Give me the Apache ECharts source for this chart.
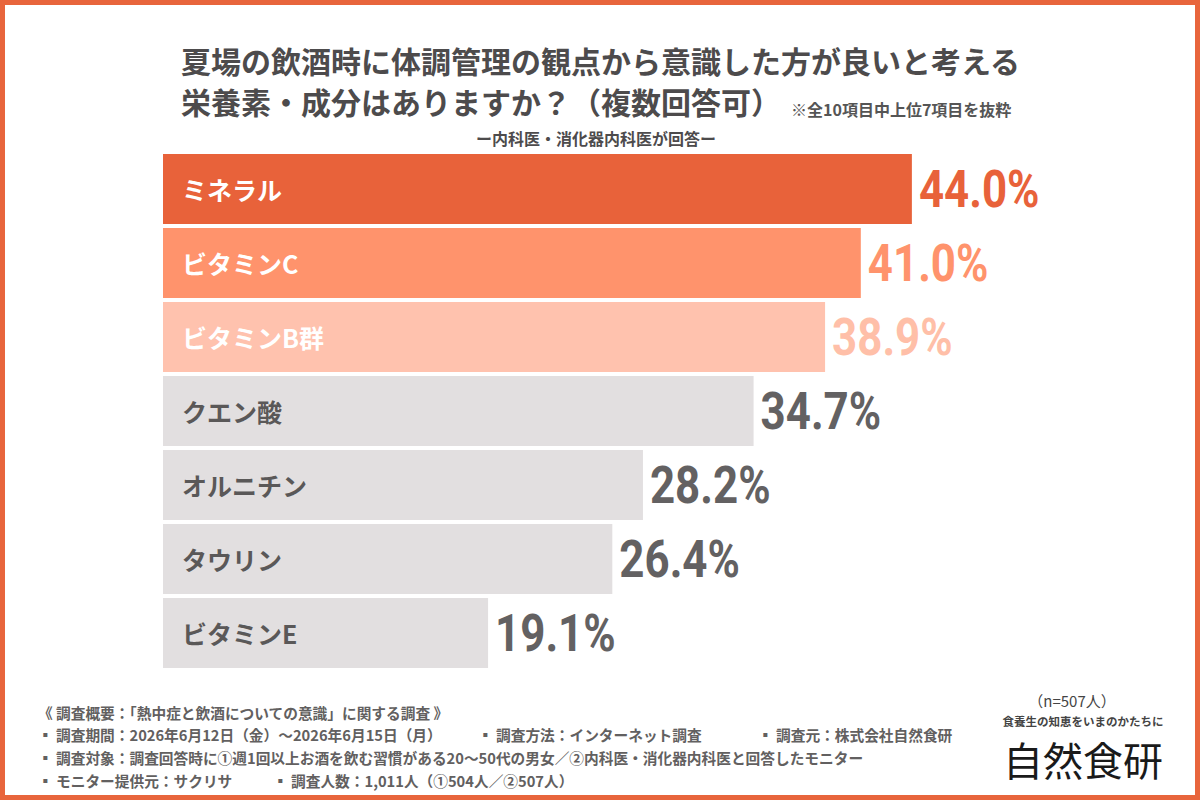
<!DOCTYPE html>
<html>
<head>
<meta charset="utf-8">
<script src="https://cdn.jsdelivr.net/npm/echarts@6/dist/echarts.min.js"></script>
<style>
  html, body { margin: 0; padding: 0; background: #fff; }
  #chart { width: 1200px; height: 800px; }
</style>
</head>
<body>
<div id="chart"></div>
<script>
const categories = ['ミネラル', 'ビタミンC', 'ビタミンB群', 'クエン酸', 'オルニチン', 'タウリン', 'ビタミンE']
const values = [44.0, 41.0, 38.9, 34.7, 28.2, 26.4, 19.1]
const barColors = ['#E8623A', '#FF936C', '#FFC2AE', '#E2DFE0', '#E2DFE0', '#E2DFE0', '#E2DFE0']
const nameColors = ['#ffffff', '#ffffff', '#ffffff', '#5a5858', '#5a5858', '#5a5858', '#5a5858']
const valueColors = ['#E8623A', '#FF936C', '#FFBFA8', '#636162', '#636162', '#636162', '#636162']

const jp = '"Noto Sans CJK JP", "Noto Sans", sans-serif'
const num = 'Roboto, "Noto Sans", sans-serif'

function txt(text, x, y, size, opts = {}) {
  return {
    type: 'text',
    style: {
      text, x, y,
      fill: opts.color || '#555',
      fontSize: size,
      fontWeight: opts.weight || 'bold',
      fontFamily: opts.family || jp,
      textAlign: opts.align || 'left',
      textVerticalAlign: 'middle',
    },
  }
}

// value labels: condensed look via a custom series placed on the axes
function renderValue(params, api) {
  const i = params.dataIndex
  const pt = api.coord([api.value(0), api.value(1)])
  return {
    type: 'text',
    x: pt[0] + 7,
    y: pt[1] + 1,
    scaleX: 0.86,
    style: {
      text: values[i].toFixed(1) + '%',
      fill: valueColors[i],
      fontSize: 51,
      fontWeight: 'bold',
      fontFamily: num,
      align: 'left',
      verticalAlign: 'middle',
    },
  }
}

const chart = echarts.init(document.getElementById('chart'), null, { renderer: 'svg' })
chart.setOption({
  backgroundColor: '#ffffff',
  animation: false,
  grid: { left: 163, top: 152, width: 851, height: 518 },
  xAxis: { type: 'value', min: 0, max: 50, show: false },
  yAxis: { type: 'category', data: categories, inverse: true, show: false },
  series: [
    {
      type: 'bar',
      barWidth: 70,
      data: values.map((v, i) => ({
        value: v,
        itemStyle: { color: barColors[i] },
        label: { color: nameColors[i] },
      })),
      label: {
        show: true,
        position: 'insideLeft',
        distance: 19,
        formatter: '{b}',
        fontSize: 25,
        fontWeight: 'bold',
        fontFamily: jp,
      },
    },
    {
      type: 'custom',
      silent: true,
      z: 3,
      renderItem: renderValue,
      encode: { x: 0, y: 1 },
      data: values.map((v, i) => [v, i]),
    },
  ],
  graphic: [
    {
      type: 'rect',
      shape: { x: 0, y: 0, width: 1200, height: 800 },
      style: { fill: 'none', stroke: '#E8653C', lineWidth: 10 },
      silent: true,
    },
    txt('夏場の飲酒時に体調管理の観点から意識した方が良いと考える', 181, 60, 30, { color: '#4d4b4c' }),
    txt('栄養素・成分はありますか？（複数回答可）', 181, 101, 30, { color: '#4d4b4c' }),
    txt('※全10項目中上位7項目を抜粋', 791, 109, 16, { color: '#555' }),
    txt('ー内科医・消化器内科医が回答ー', 596, 138, 16, { color: '#4d4b4c', align: 'center' }),

    txt('《 調査概要：「熱中症と飲酒についての意識」に関する調査 》', 38, 712, 14.7, { color: '#626060' }),
    txt('▪ 調査期間：2026年6月12日（金）～2026年6月15日（月）', 38, 734, 14.7, { color: '#626060' }),
    txt('▪ 調査方法：インターネット調査', 478, 734, 14.7, { color: '#626060' }),
    txt('▪ 調査元：株式会社自然食研', 758, 734, 14.7, { color: '#626060' }),
    txt('▪ 調査対象：調査回答時に①週1回以上お酒を飲む習慣がある20～50代の男女／②内科医・消化器内科医と回答したモニター', 38, 757, 14.7, { color: '#626060' }),
    txt('▪ モニター提供元：サクリサ', 38, 780, 14.7, { color: '#626060' }),
    txt('▪ 調査人数：1,011人（①504人／②507人）', 273, 780, 14.7, { color: '#626060' }),

    txt('（n=507人）', 1072, 700, 15, { color: '#444', weight: 'normal', align: 'center' }),
    txt('食養生の知恵をいまのかたちに', 1083, 721, 11.5, { color: '#444', align: 'center' }),
    txt('自然食研', 1083, 759, 40, { color: '#1a1a1a', weight: 'normal', align: 'center' }),
  ],
})
</script>
</body>
</html>
